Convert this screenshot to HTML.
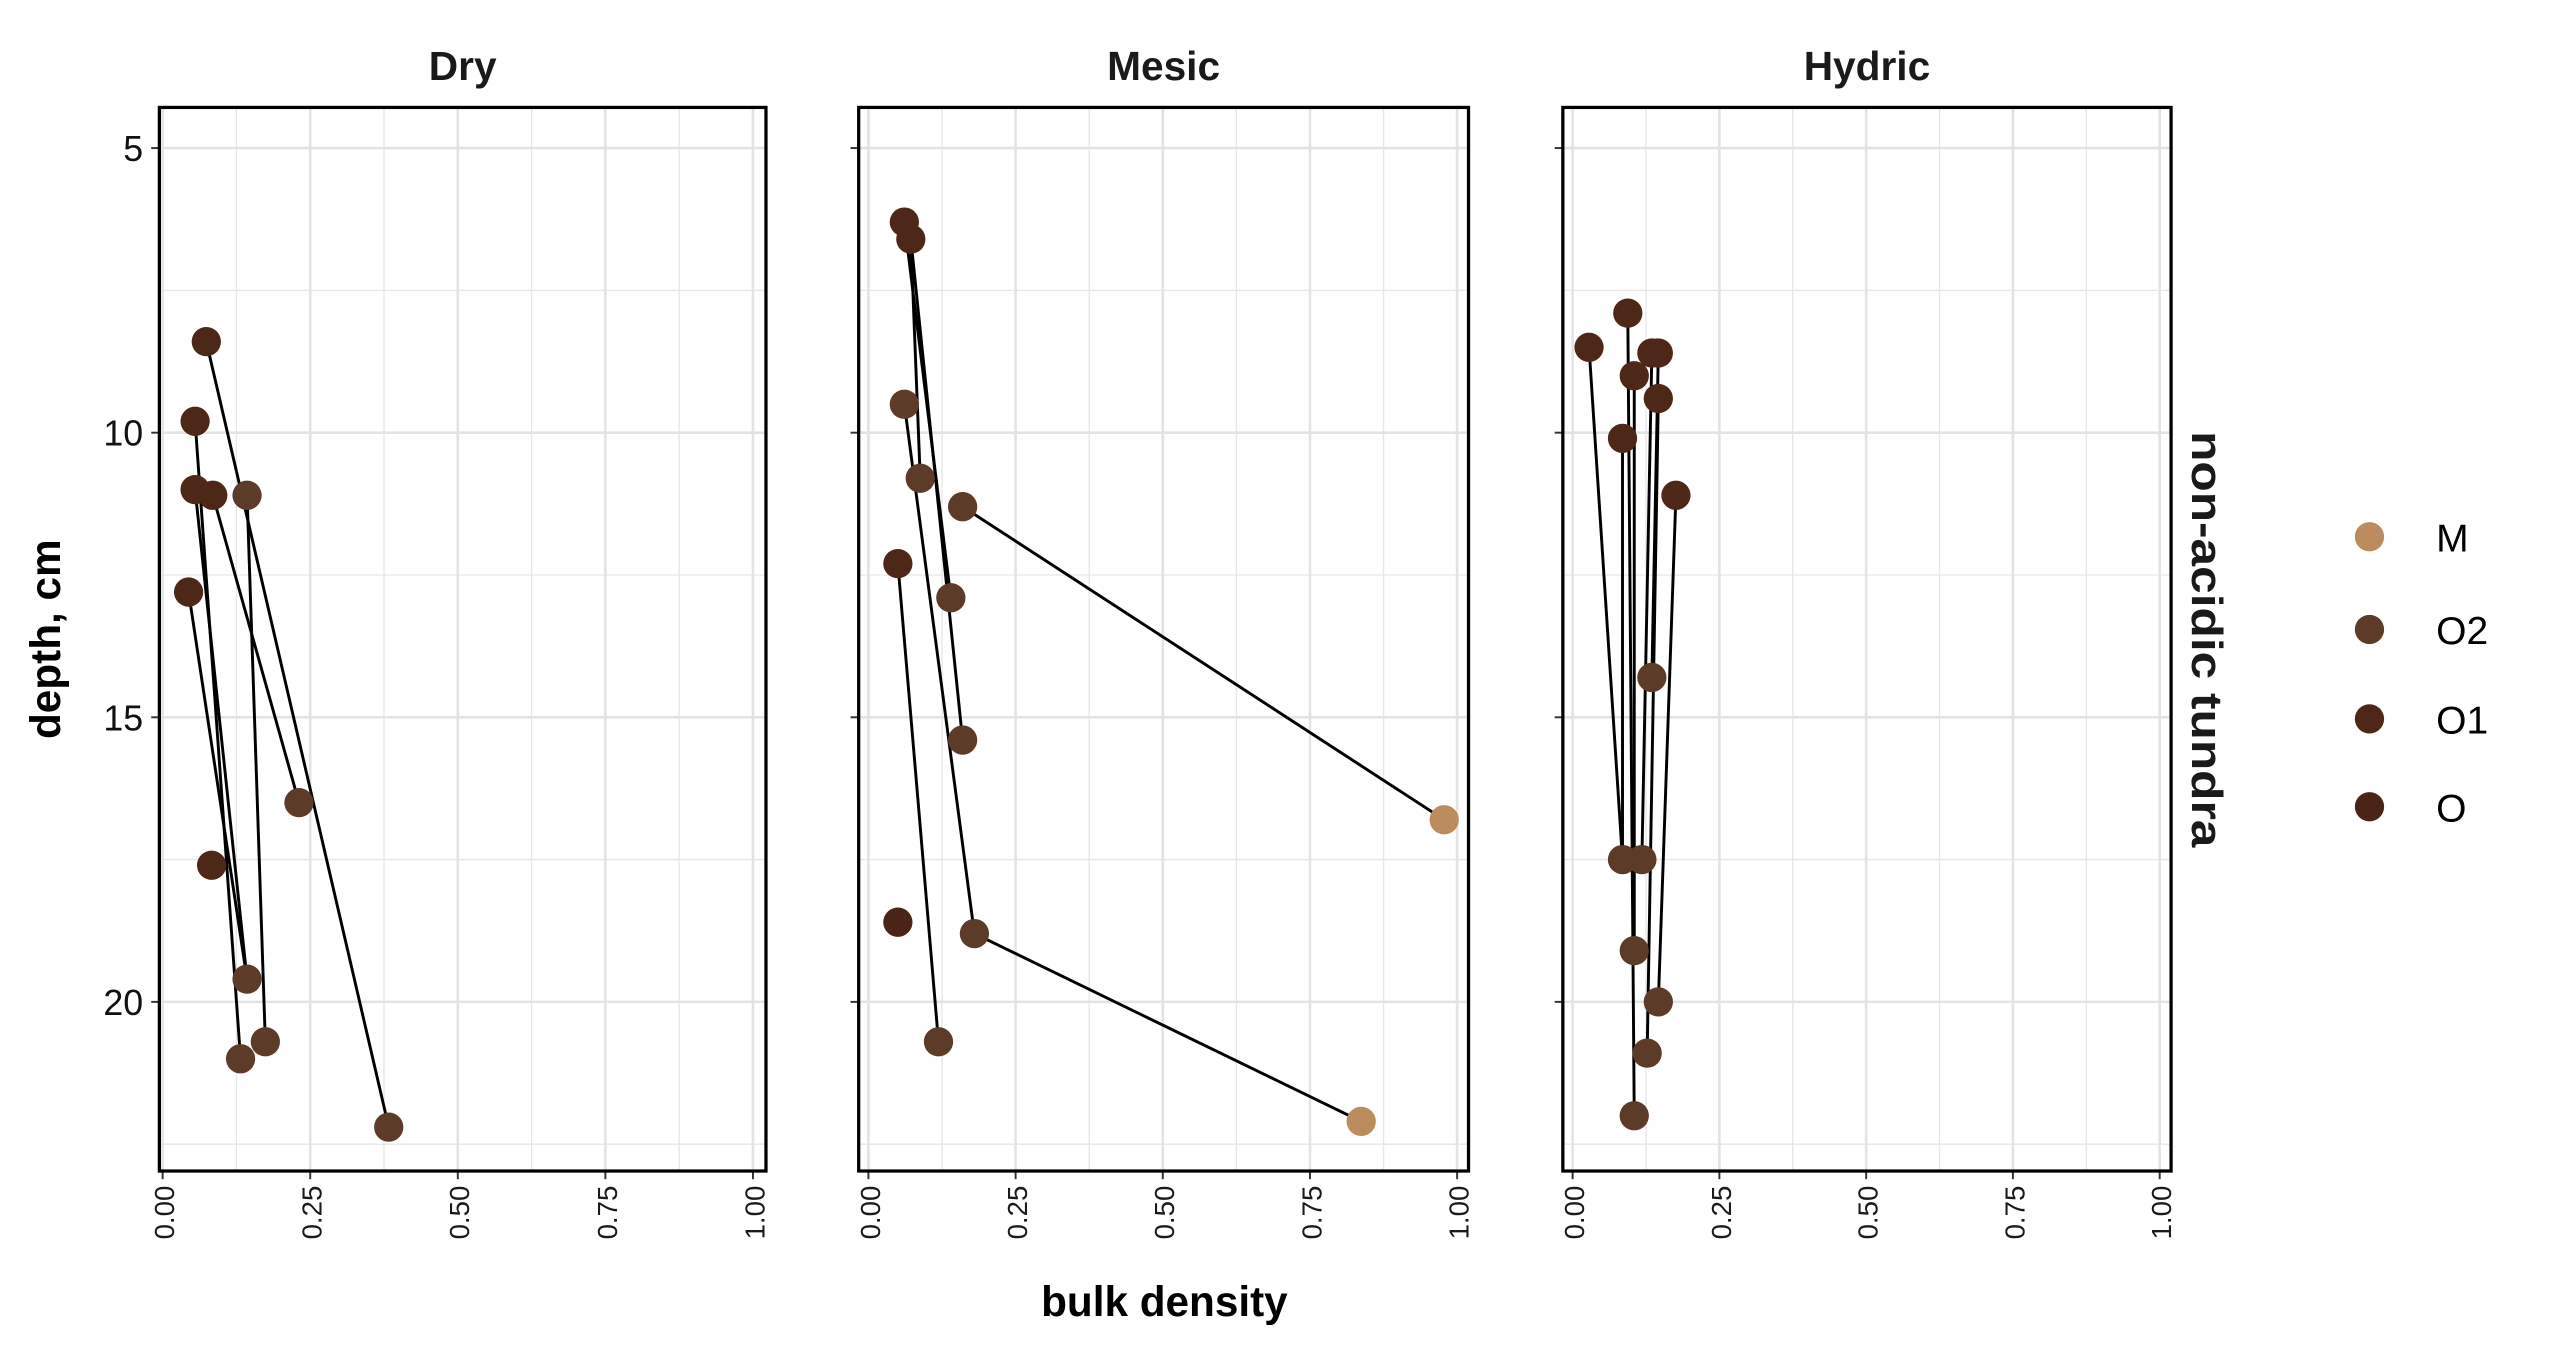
<!DOCTYPE html>
<html><head><meta charset="utf-8"><style>
html,body{margin:0;padding:0;background:#fff;}
svg{display:block;font-family:"Liberation Sans",Arial,sans-serif;}
</style></head><body>
<svg id="chart" width="2550" height="1350" viewBox="0 0 1568 830" xmlns="http://www.w3.org/2000/svg">
<rect x="0" y="0" width="1568" height="830" fill="#fff"/>
</svg>
<script>
const panelNames = ["Dry","Mesic","Hydric"];
const xTicks = [0,0.25,0.5,0.75,1];
const xTickLabels = ["0.00","0.25","0.50","0.75","1.00"];
const yTicks = [5,10,15,20];
const yTickLabels = ["5","10","15","20"];
const layerNames = ["M","O2","O1","O"];
const layerColors = ["#BA8C5E","#5C3B29","#4D2819","#4A2417"];
// Dry
const dryDensity = [0.074,0.055,0.055,0.085,0.143,0.044,0.231,0.083,0.143,0.174,0.132,0.383];
const dryDepth   = [8.4,9.8,11.0,11.1,11.1,12.8,16.5,17.6,19.6,20.7,21.0,22.2];
const dryLayer   = [2,2,2,2,1,2,1,2,1,1,1,1];
const dryLinks   = [[0,11],[1,10],[2,8],[3,6],[4,9],[5,8]];
// Mesic
const mesicDensity = [0.061,0.072,0.061,0.088,0.160,0.050,0.140,0.160,0.978,0.050,0.180,0.119,0.837];
const mesicDepth   = [6.3,6.6,9.5,10.8,11.3,12.3,12.9,15.4,16.8,18.6,18.8,20.7,22.1];
const mesicLayer   = [2,2,1,1,1,2,1,1,0,3,1,1,0];
const mesicLinks   = [[0,6],[1,7],[2,10],[5,11],[4,8],[10,12],[1,3]];
// Hydric
const hydricDensity = [0.028,0.094,0.135,0.146,0.105,0.146,0.085,0.176,0.135,0.085,0.118,0.105,0.146,0.127,0.105];
const hydricDepth   = [8.5,7.9,8.6,8.6,9.0,9.4,10.1,11.1,14.3,17.5,17.5,19.1,20.0,20.9,22.0];
const hydricLayer   = [2,2,2,2,2,2,2,2,1,1,1,1,1,1,1];
const hydricLinks   = [[0,9],[1,14],[2,10],[3,8],[4,11],[5,13],[6,9],[7,12]];

const panels = [
 {d:dryDensity,y:dryDepth,l:dryLayer,k:dryLinks,x0:100,x1:463,left:98,right:471},
 {d:mesicDensity,y:mesicDepth,l:mesicLayer,k:mesicLinks,x0:534,x1:896,left:528,right:903},
 {d:hydricDensity,y:hydricDepth,l:hydricLayer,k:hydricLinks,x0:967,x1:1328,left:961,right:1335}
];
const TOP=66,BOT=720;
function yScale(v){return 91+(v-5)*35;}
const svg=document.getElementById('chart');
const NS="http://www.w3.org/2000/svg";
function mk(t,a,p){const e=document.createElementNS(NS,t);for(const k in a)e.setAttribute(k,a[k]);(p||svg).appendChild(e);return e;}

panels.forEach((p,pi)=>{
  const xs=v=>p.x0+v*(p.x1-p.x0);
  const g=mk('g',{});
  
  
  for(let i=0;i<4;i++){const v=(xTicks[i]+xTicks[i+1])/2;
    const ln=mk('line',{x1:xs(v),x2:xs(v),y1:TOP,y2:BOT,stroke:'#E6E6E6','stroke-width':0.8},g);
    }
  [2.5,7.5,12.5,17.5,22.5].forEach(v=>{const yy=yScale(v);if(yy<TOP||yy>BOT)return;
    const ln=mk('line',{x1:p.left,x2:p.right,y1:yy,y2:yy,stroke:'#E6E6E6','stroke-width':0.8},g);
    });
  xTicks.forEach((v,i)=>{
    const ln=mk('line',{x1:xs(v),x2:xs(v),y1:TOP,y2:BOT,stroke:'#E3E3E3','stroke-width':1.6},g);
    
    mk('line',{x1:xs(v),x2:xs(v),y1:BOT,y2:BOT+5,stroke:'#333','stroke-width':1.2},g);
    const t=mk('text',{x:0,y:0,transform:`translate(${xs(v)+7},${BOT+9}) rotate(-90)`,'text-anchor':'end','font-size':17,fill:'#1a1a1a'},g);
    t.textContent=xTickLabels[i];
    
  });
  yTicks.forEach((v,i)=>{const yy=yScale(v);
    const ln=mk('line',{x1:p.left,x2:p.right,y1:yy,y2:yy,stroke:'#E3E3E3','stroke-width':1.6},g);
    
    mk('line',{x1:p.left-5,x2:p.left,y1:yy,y2:yy,stroke:'#333','stroke-width':1.2},g);
    if(pi===0){const t=mk('text',{x:p.left-10,y:yy+8,'text-anchor':'end','font-size':22,fill:'#111'},g);
      t.textContent=yTickLabels[i];}
  });
  p.k.forEach(([a,b])=>{
    const ln=mk('line',{x1:xs(p.d[a]),y1:yScale(p.y[a]),x2:xs(p.d[b]),y2:yScale(p.y[b]),stroke:'#000','stroke-width':1.8},g);
    
  });
  p.d.forEach((v,i)=>{
    const c=mk('circle',{cx:xs(v),cy:yScale(p.y[i]),r:9,fill:layerColors[p.l[i]]},g);
    
    
  });
  const fr=mk('rect',{x:p.left,y:TOP,width:p.right-p.left,height:BOT-TOP,fill:'none',stroke:'#000','stroke-width':2},g);
  
  const st=mk('text',{x:(p.left+p.right)/2,y:49,'text-anchor':'middle','font-size':25,'font-weight':'bold',fill:'#1a1a1a'},g);
  st.textContent=panelNames[pi];
  
});
let t=mk('text',{x:716,y:809,'text-anchor':'middle','font-size':26,'font-weight':'bold',fill:'#000'});
t.textContent='bulk density';
t=mk('text',{x:0,y:0,transform:'translate(37,393) rotate(-90)','text-anchor':'middle','font-size':26,'font-weight':'bold',fill:'#000'});
t.textContent='depth, cm';
t=mk('text',{x:0,y:0,transform:'translate(1348,393) rotate(90)','text-anchor':'middle','font-size':27,'font-weight':'bold',fill:'#1a1a1a',textLength:256,lengthAdjust:'spacingAndGlyphs'});
t.textContent='non-acidic tundra';
const legY=[330,387,442,496];
layerNames.forEach((n,i)=>{
  const c=mk('circle',{cx:1457,cy:legY[i],r:9,fill:layerColors[i]});
  
  const tt=mk('text',{x:1498,y:legY[i]+9,'font-size':24,fill:'#000'});
  tt.textContent=n;
});
</script>
</body></html>
